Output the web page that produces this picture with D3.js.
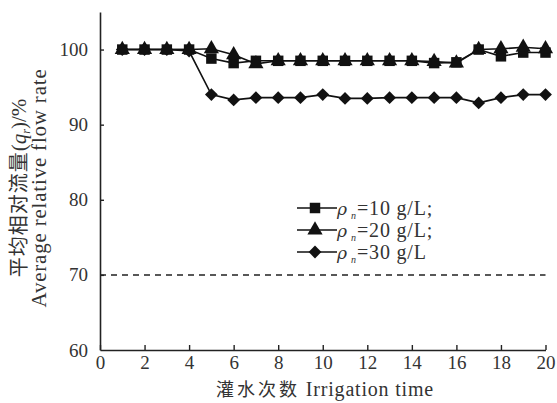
<!DOCTYPE html>
<html>
<head>
<meta charset="utf-8">
<script src="https://cdn.jsdelivr.net/npm/d3@7"></script>
<style>
  body { margin: 0; background: #fff; }
  svg { font-family: "Liberation Serif", "Times New Roman", serif; }
  .cjk { font-family: "Noto Sans CJK SC", sans-serif; }
</style>
</head>
<body>
<svg id="chart" width="557" height="403"></svg>
<script>
// ------ Data
var irrigation = d3.range(1, 21);
var conc10 = [100, 100, 100, 100, 98.8, 98.2, 98.5, 98.5, 98.5, 98.5, 98.5, 98.5, 98.5, 98.5, 98.2, 98.3, 100, 99.1, 99.6, 99.6];
var conc20 = [100, 100, 100, 100, 100.1, 99.3, 98.1, 98.5, 98.5, 98.5, 98.5, 98.5, 98.5, 98.5, 98.4, 98.2, 100, 100.1, 100.3, 100.1];
var conc30 = [100, 100, 100, 99.8, 94.0, 93.3, 93.6, 93.6, 93.6, 94.0, 93.5, 93.5, 93.6, 93.6, 93.6, 93.6, 92.9, 93.6, 94.0, 94.0];
var xTicks = d3.range(0, 21, 2);
var yTicks = [60, 70, 80, 90, 100];
var refLine = 70;
var legendLabels = ["=10 g/L;", "=20 g/L;", "=30 g/L"];

// Margins and sizes
var margin = {top: 12, right: 11, bottom: 53, left: 100},
    width = 557 - margin.left - margin.right,
    height = 403 - margin.top - margin.bottom;

var svg = d3.select("#chart")
  .append("g")
    .attr("transform", "translate(" + margin.left + "," + margin.top + ")");

var x = d3.scaleLinear().domain([0, 20]).range([0, width - 0.5]);
var y = d3.scaleLinear().domain([60, 105]).range([height, 0]);

// x-axis
var xAxis = svg.append("g")
  .attr("transform", "translate(0," + height + ")")
  .call(d3.axisBottom(x).tickValues(xTicks).tickSize(-5).tickPadding(6).tickSizeOuter(0));
// y-axis
var yAxis = svg.append("g")
  .call(d3.axisLeft(y).tickValues(yTicks).tickSize(-4).tickPadding(12).tickSizeOuter(0));

[xAxis, yAxis].forEach(function(a) {
  a.select(".domain").attr("stroke", "#222").attr("stroke-width", 1.6);
  a.selectAll(".tick line").attr("stroke", "#222").attr("stroke-width", 1.4);
  a.selectAll(".tick text").attr("fill", "#333").style("font-size", "19px").style("font-family", "Liberation Serif");
});
yAxis.selectAll(".tick").filter(d => d === 60).select("line").remove();
xAxis.selectAll(".tick text").attr("dy", "0.7em");

// dashed 70 reference
svg.append("line")
  .attr("x1", x(0)).attr("x2", x(20))
  .attr("y1", y(refLine)).attr("y2", y(refLine))
  .attr("stroke", "#222").attr("stroke-width", 1.5)
  .attr("stroke-dasharray", "6,5");

// ------- Series
var sym = {
  square: d3.symbol().type(d3.symbolSquare).size(110),
  triangle: d3.symbol().type(d3.symbolTriangle).size(100),
  diamond: d3.symbol().type(d3.symbolSquare).size(82)
};
var series = [
  {values: conc10, shape: sym.square, rot: 0},
  {values: conc20, shape: sym.triangle, rot: 0},
  {values: conc30, shape: sym.diamond, rot: 45}
];

var line = d3.line().x((d, i) => x(irrigation[i])).y(d => y(d));

series.forEach(function(s) {
  svg.append("path")
    .datum(s.values)
    .attr("d", line)
    .attr("fill", "none")
    .attr("stroke", "#111")
    .attr("stroke-width", 1.6);
});
series.forEach(function(s) {
  svg.selectAll(null)
    .data(s.values)
    .enter().append("path")
      .attr("d", s.shape)
      .attr("transform", (d, i) => "translate(" + x(irrigation[i]) + "," + y(d) + ") rotate(" + s.rot + ")")
      .attr("fill", "#111");
});

// ------ Legend
var legend = svg.append("g").attr("transform", "translate(197,196)");
series.forEach(function(s, i) {
  var g = legend.append("g").attr("transform", "translate(0," + (i * 22) + ")");
  g.append("line").attr("x1", 0).attr("x2", 40).attr("y1", 0).attr("y2", 0)
    .attr("stroke", "#111").attr("stroke-width", 1.6);
  g.append("path").attr("d", s.shape).attr("transform", "translate(18,0) rotate(" + s.rot + ")").attr("fill", "#111");
  var t = g.append("text").attr("x", 40).attr("y", 6.5).attr("fill", "#333").style("font-size", "20px");
  t.append("tspan").style("font-style", "italic").style("font-family", "DejaVu Serif").style("font-size", "17px").text("ρ");
  t.append("tspan").style("font-style", "italic").style("font-size", "10px").attr("dx", 4).attr("dy", 4).text("n");
  t.append("tspan").attr("dy", -4).attr("dx", 1).style("letter-spacing", "0.8px").text(legendLabels[i]);
});

// ------ Axis titles
var xt = svg.append("text")
  .attr("x", width / 2 + 2).attr("y", height + 46)
  .attr("text-anchor", "middle").attr("fill", "#333").style("font-size", "20px");
xt.append("tspan").attr("class", "cjk").style("font-size", "18px").style("letter-spacing", "3px").text("灌水次数");
xt.append("tspan").style("letter-spacing", "0.8px").text(" Irrigation time");

var yt = svg.append("g").attr("transform", "translate(-74," + (height / 2 + 7) + ") rotate(-90)");
var t1 = yt.append("text").attr("text-anchor", "middle").attr("y", 0).attr("fill", "#333").style("font-size", "21px");
t1.append("tspan").attr("class", "cjk").style("font-size", "20px").style("letter-spacing", "1px").text("平均相对流量");
t1.append("tspan").text("(");
t1.append("tspan").style("font-style", "italic").text("q");
t1.append("tspan").style("font-style", "italic").style("font-size", "12px").attr("dy", 4).text("r");
t1.append("tspan").attr("dy", -4).text(")/%");
yt.append("text").attr("text-anchor", "middle").attr("y", 20).attr("fill", "#333").style("font-size", "21px")
  .style("letter-spacing", "0.8px")
  .text("Average relative flow rate");
</script>
</body>
</html>
